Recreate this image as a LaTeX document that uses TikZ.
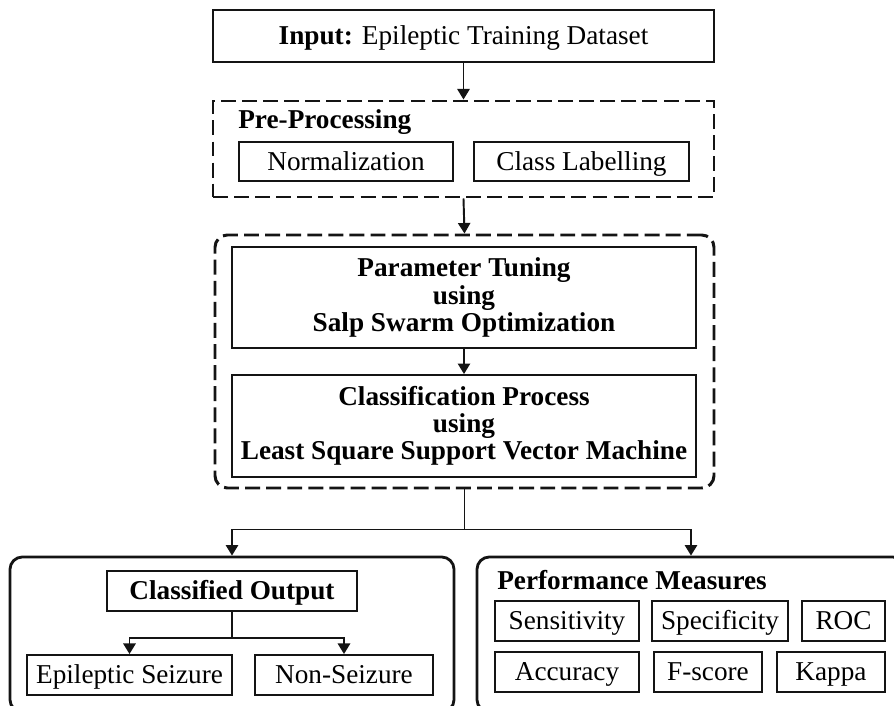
\documentclass[tikz,border=0pt]{standalone}
\usepackage{fontspec}
\setmainfont{Liberation Serif}
\usepackage{tikz}
\usetikzlibrary{
  arrows.meta,
  positioning,
  fit
}
\definecolor{InkBlack}{RGB}{20, 20, 20}
\tikzset{
    txtfont/.style={font=\fontsize{15.5}{15.5}\selectfont},
    box/.style={rectangle, draw=InkBlack, line width=1.1pt, inner sep=0pt, align=center, txtfont},
    onebox/.style={box, text height=11pt, text depth=1pt},
    dashgrp/.style={rectangle, draw=InkBlack, line width=1.7pt, dash pattern=on 8.5pt off 3.5pt, inner sep=0pt},
    solidgrp/.style={rectangle, draw=InkBlack, line width=1.6pt, rounded corners=7pt, inner sep=0pt},
    arr/.style={draw=InkBlack, line width=1.1pt, -{Triangle[width=7pt,length=6pt]}},
    plainline/.style={draw=InkBlack, line width=1.1pt}
}

\begin{document}
\begin{tikzpicture}[x=0.02cm, y=-0.02cm]
    \clip (0,0) rectangle (894,706);
    \fill[white] (0,0) rectangle (894,706);

    \node[onebox, minimum width=10.02cm, minimum height=1.04cm] (input) at (463.5,36) {\textbf{Input:} Epileptic Training Dataset};

    \node[dashgrp, fit={(213,101) (714,197)}] (pre) {};
    \node[font=\fontsize{15.5}{15.5}\selectfont\bfseries, anchor=west, inner sep=0pt] (prelbl) at (238,122) {Pre-Processing};
    \node[onebox, minimum width=4.28cm, minimum height=0.78cm] (norm) at (346,161.5) {Normalization};
    \node[onebox, minimum width=4.30cm, minimum height=0.78cm] (clslab) at (581.5,161.5) {Class Labelling};

    \node[dashgrp, rounded corners=7pt, fit={(215,235) (714,488)}] (opt) {};
    \node[box, font=\fontsize{15.5}{15.5}\selectfont\bfseries, minimum width=9.28cm, minimum height=2.02cm] (param) at (464,297.5) {Parameter Tuning\\using\\Salp Swarm Optimization};
    \node[box, font=\fontsize{15.5}{15.5}\selectfont\bfseries, minimum width=9.28cm, minimum height=2.04cm] (lssvm) at (464,426) {Classification Process\\using\\Least Square Support Vector Machine};

    \node[solidgrp, fit={(10,557) (454,712)}] (outgrp) {};
    \node[onebox, font=\fontsize{15.5}{15.5}\selectfont\bfseries, minimum width=5.0cm, minimum height=0.80cm] (clsout) at (232,591) {Classified Output};
    \node[onebox, minimum width=4.10cm, minimum height=0.80cm] (epi) at (129.5,675) {Epileptic Seizure};
    \node[onebox, minimum width=3.56cm, minimum height=0.80cm] (nonsz) at (344,675) {Non-Seizure};

    \node[solidgrp, fit={(477,557) (905,712)}] (perfgrp) {};
    \node[font=\fontsize{15.5}{15.5}\selectfont\bfseries, anchor=west, inner sep=0pt] (perflbl) at (497,580) {Performance Measures};
    \node[onebox, minimum width=2.88cm, minimum height=0.80cm] (sens) at (567,621) {Sensitivity};
    \node[onebox, minimum width=2.72cm, minimum height=0.80cm] (spec) at (720,621) {Specificity};
    \node[onebox, minimum width=1.66cm, minimum height=0.80cm] (roc) at (843.5,621) {ROC};
    \node[onebox, minimum width=2.88cm, minimum height=0.80cm] (acc) at (567,672) {Accuracy};
    \node[onebox, minimum width=2.16cm, minimum height=0.80cm] (fsc) at (708,672) {F-score};
    \node[onebox, minimum width=2.16cm, minimum height=0.80cm] (kappa) at (831,672) {Kappa};

    \draw[arr] (input.south) -- (pre.north);
    \draw[arr] (pre.south) -- (opt.north);
    \draw[arr] (param.south) -- (lssvm.north);
    \path (opt.south) ++(0,40) coordinate (split);
    \draw[plainline] (opt.south) -- (split);
    \draw[arr] (split) -| (outgrp.north);
    \draw[arr] (split) -| (perfgrp.north);
    \path (clsout.south) ++(0,26) coordinate (clssplit);
    \draw[plainline] (clsout.south) -- (clssplit);
    \draw[arr] (clssplit) -| (epi.north);
    \draw[arr] (clssplit) -| (nonsz.north);
\end{tikzpicture}
\end{document}
